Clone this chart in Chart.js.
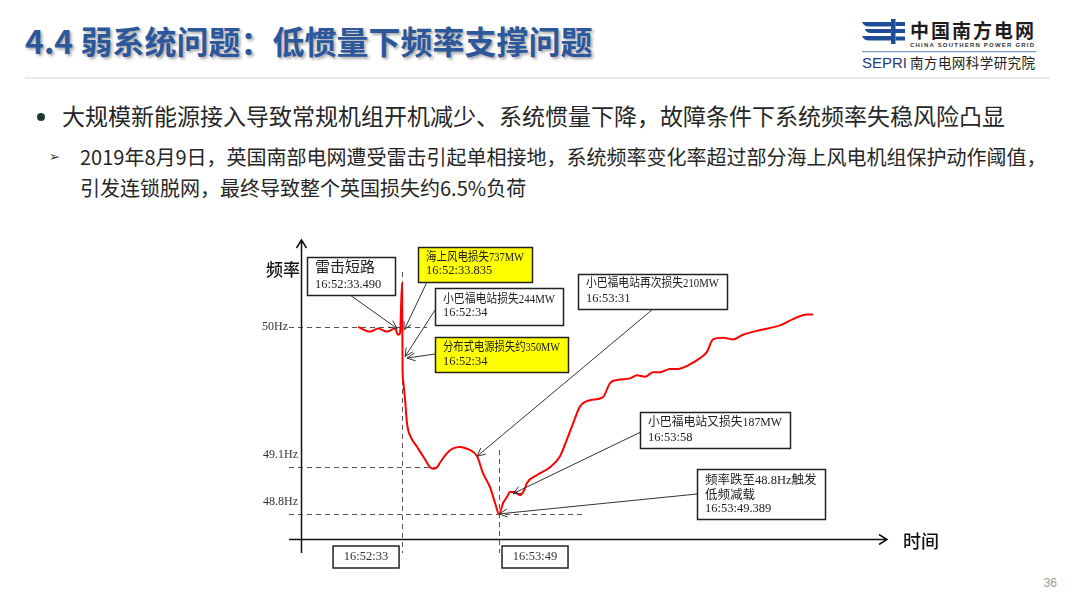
<!DOCTYPE html>
<html lang="zh-CN">
<head>
<meta charset="utf-8">
<title>4.4 弱系统问题：低惯量下频率支撑问题</title>
<script src="https://cdn.jsdelivr.net/npm/chart.js@4.4.1/dist/chart.umd.min.js"></script>
<style>
  html, body { margin: 0; padding: 0; background: #fff; }
  .slide { position: relative; width: 1080px; height: 608px; overflow: hidden; font-family: "Noto Sans CJK SC", sans-serif; color: #262626; }
  .title { position: absolute; left: 25px; top: 24px; font-size: 32px; font-weight: 700; line-height: 1; color: #2C579A; text-shadow: 2px 2px 3px rgba(0, 0, 0, 0.35); white-space: nowrap; }
  .rule { position: absolute; left: 25px; top: 77px; width: 1025px; height: 2px; background: #E8EBF0; }
  .logo { position: absolute; left: 860px; top: 18px; }
  .line { position: absolute; line-height: 1; white-space: nowrap; }
  .l1 { left: 62px; top: 104px; font-size: 23px; }
  .l2 { left: 80px; top: 147px; font-size: 20px; }
  .l3 { left: 80px; top: 178px; font-size: 20px; }
  .dot { position: absolute; left: 37px; top: 113px; width: 8px; height: 8px; border-radius: 50%; background: #1E3A2E; }
  .arrow { position: absolute; left: 49px; top: 150px; font-family: "DejaVu Sans", sans-serif; font-size: 13px; line-height: 1; color: #333; }
  .page { position: absolute; right: 23px; top: 576px; font-family: "Liberation Sans", sans-serif; font-size: 12px; color: #9a9a9a; }
  canvas { position: absolute; left: 0; top: 0; }
</style>
</head>
<body>
<div class="slide">
  <div class="title">4.4 弱系统问题：低惯量下频率支撑问题</div>
  <div class="rule"></div>
  <svg class="logo" width="190" height="58" viewBox="0 0 190 58">
    <g fill="#1F4E96">
      <path d="M2 4 H31 V8.5 H9 Q4 8.5 2 4 Z" />
      <path d="M5 11 H45 V15 H11 Q6 15 5 11 Z" />
      <path d="M2 18 H31 V22.5 H9 Q4 22.5 2 18 Z" />
      <rect x="31" y="1" width="4.5" height="25" />
      <rect x="35.5" y="4" width="9.5" height="4" />
      <rect x="35.5" y="18.5" width="9.5" height="4" />
    </g>
    <text x="50" y="20" font-family="Noto Sans CJK SC" font-weight="700" font-size="19" fill="#1d1d1d" textLength="124">中国南方电网</text>
    <text x="50" y="28.5" font-family="Liberation Sans" font-weight="700" font-size="6" fill="#333" textLength="124">CHINA SOUTHERN POWER GRID</text>
    <rect x="2" y="33" width="174" height="1.2" fill="#7F95BC" />
    <text x="2" y="50" font-family="Liberation Sans" font-size="15" fill="#1E3C72" textLength="45">SEPRI</text>
    <text x="50" y="50" font-family="Noto Sans CJK SC" font-size="13.5" fill="#222" textLength="125">南方电网科学研究院</text>
  </svg>

  <div class="dot"></div>
  <div class="line l1">大规模新能源接入导致常规机组开机减少、系统惯量下降，故障条件下系统频率失稳风险凸显</div>
  <div class="arrow">➢</div>
  <div class="line l2">2019年8月9日，英国南部电网遭受雷击引起单相接地，系统频率变化率超过部分海上风电机组保护动作阈值，</div>
  <div class="line l3">引发连锁脱网，最终导致整个英国损失约6.5%负荷</div>
  <div class="page">36</div>

  <canvas id="freqChart" width="1080" height="608"></canvas>
</div>

<script>
// seconds after 16:52:33 (schematic time axis) and system frequency in Hz
const times = [
  -34.5, -25.1, -18.8, -11.8, -5.5, -3.1, -1.6, 0, 0.4, 0.8, 2.4, 3.9, 7.1,
  11.8, 17.2, 21.9, 24.3, 27.4, 29.8, 35.3, 40.0, 45.5, 50.2, 53.3, 58.8,
  63.5, 69.0, 72.9, 76.0, 79.2, 82.3, 84.6, 88.6, 92.5, 95.6, 98.0, 105.8,
  116.0, 123.8, 129.3, 134.0, 139.5, 147.3, 157.5, 163.0, 168.5, 178.7,
  184.2, 190.4, 196.7, 202.2, 210.0, 216.3, 223.4, 233.5, 239.0, 243.7,
  251.6, 259.4, 267.2, 280.6, 296.2, 306.4, 317.4, 322.1,
]
const freqs = [
  50.0, 49.97, 49.99, 49.97, 49.99, 49.95, 49.96, 50.28, 49.72, 49.66, 49.53,
  49.38, 49.29, 49.23, 49.16, 49.1, 49.09, 49.1, 49.13, 49.19, 49.22, 49.23,
  49.22, 49.21, 49.17, 49.06, 48.97, 48.87, 48.8, 48.87, 48.91, 48.94, 48.94,
  48.92, 48.95, 49.0, 49.05, 49.1, 49.17, 49.28, 49.38, 49.49, 49.53, 49.55,
  49.64, 49.66, 49.67, 49.69, 49.68, 49.71, 49.71, 49.73, 49.73, 49.75, 49.8,
  49.84, 49.92, 49.93, 49.92, 49.95, 49.98, 50.01, 50.05, 50.08, 50.08,
]

const yTickValues = [50, 49.1, 48.8]
const yTickLabels = ["50Hz", "49.1Hz", "48.8Hz"]
const xTickValues = [0, 76]
const xTickLabels = ["16:52:33", "16:53:49"]

// events pointed at by the callouts
const eventTimes = [-3.9, 1.6, 2.4, 3.9, 58.8, 87.0, 76.0]
const eventFreqs = [49.99, 49.98, 49.81, 49.8, 49.17, 48.93, 48.8]
const eventLabels = [
  ["雷击短路", "16:52:33.490"],
  ["海上风电损失737MW", "16:52:33.835"],
  ["小巴福电站损失244MW", "16:52:34"],
  ["分布式电源损失约350MW", "16:52:34"],
  ["小巴福电站再次损失210MW", "16:53:31"],
  ["小巴福电站又损失187MW", "16:53:58"],
  ["频率跌至48.8Hz触发", "低频减载", "16:53:49.389"],
]

// callout layout (pixels): box x, y, w, h, arrow start, fill, text rows
const callouts = [
  { box: [307, 257, 88, 38], from: [350, 295], fill: "#fff", rows: [11, 28], big: true },
  { box: [418, 247, 114, 35], from: [427, 282], fill: "#FFFF00", rows: [11, 24] },
  { box: [435, 288, 128, 37], from: [435, 310], fill: "#fff", rows: [12, 25] },
  { box: [435, 337, 133, 35], from: [435, 354], fill: "#FFFF00", rows: [11, 25] },
  { box: [578, 274, 149, 35], from: [653, 309], fill: "#fff", rows: [10, 25] },
  { box: [640, 412, 150, 36], from: [647, 429], fill: "#fff", rows: [11, 26] },
  { box: [697, 469, 128, 50], from: [697, 494], fill: "#fff", rows: [12, 27, 40] },
]

const CJK = "'Liberation Serif', 'Noto Sans CJK SC', serif"

const drawArrow = (ctx, x0, y0, x1, y1) => {
  const ang = Math.atan2(y1 - y0, x1 - x0)
  const len = 9
  ctx.beginPath()
  ctx.moveTo(x0, y0)
  ctx.lineTo(x1, y1)
  ctx.moveTo(x1 - len * Math.cos(ang - 0.45), y1 - len * Math.sin(ang - 0.45))
  ctx.lineTo(x1, y1)
  ctx.lineTo(x1 - len * Math.cos(ang + 0.45), y1 - len * Math.sin(ang + 0.45))
  ctx.stroke()
}

const guidesPlugin = {
  id: "guides",
  beforeDatasetsDraw(chart) {
    const { ctx, chartArea, scales } = chart
    const { x, y } = scales
    ctx.save()

    // dashed reference lines
    const hEnds = [19.6, 30.6, 141.8]
    ctx.strokeStyle = "#555"
    ctx.lineWidth = 1
    ctx.setLineDash([5, 4])
    yTickValues.forEach((v, i) => {
      const py = Math.round(y.getPixelForValue(v)) + 0.5
      ctx.beginPath()
      ctx.moveTo(289, py)
      ctx.lineTo(x.getPixelForValue(hEnds[i]), py)
      ctx.stroke()
    })
    const vTops = [50.353, 49.21]
    xTickValues.forEach((v, i) => {
      const px = Math.round(x.getPixelForValue(v)) + 0.5
      ctx.beginPath()
      ctx.moveTo(px, y.getPixelForValue(vTops[i]))
      ctx.lineTo(px, chartArea.bottom + 14)
      ctx.stroke()
    })
    ctx.setLineDash([])

    // axes with open arrow heads
    ctx.strokeStyle = "#111"
    ctx.lineWidth = 1.5
    const ax = chartArea.left + 0.5
    const ay = chartArea.bottom + 0.5
    ctx.beginPath()
    ctx.moveTo(ax, chartArea.bottom + 14)
    ctx.lineTo(ax, chartArea.top)
    ctx.moveTo(ax - 5, chartArea.top + 8)
    ctx.lineTo(ax, chartArea.top)
    ctx.lineTo(ax + 5, chartArea.top + 8)
    ctx.moveTo(289, ay)
    ctx.lineTo(chartArea.right + 2, ay)
    ctx.moveTo(chartArea.right - 6, ay - 5)
    ctx.lineTo(chartArea.right + 2, ay)
    ctx.lineTo(chartArea.right - 6, ay + 5)
    ctx.stroke()

    // y tick labels
    ctx.fillStyle = "#333"
    ctx.font = "12px " + CJK
    ctx.textAlign = "right"
    ctx.textBaseline = "middle"
    yTickLabels.forEach((lab, i) => {
      const py = y.getPixelForValue(yTickValues[i])
      if (i === 0) ctx.fillText(lab, 288, py)
      else ctx.fillText(lab, 298, py - 12)
    })

    // x tick labels in boxes
    ctx.textAlign = "center"
    ctx.font = "12.5px " + CJK
    ctx.lineWidth = 1.5
    xTickLabels.forEach((lab, i) => {
      const px = x.getPixelForValue(xTickValues[i])
      const bx = i === 0 ? px - 69 : px + 3
      ctx.strokeStyle = "#222"
      ctx.strokeRect(bx, 546, 66, 22)
      ctx.fillText(lab, bx + 33, 557)
    })

    // axis names
    ctx.fillStyle = "#111"
    ctx.textAlign = "left"
    ctx.font = "500 17px 'Noto Sans CJK SC', sans-serif"
    ctx.fillText("频率", 266, 270)
    ctx.font = "500 18px 'Noto Sans CJK SC', sans-serif"
    ctx.fillText("时间", 903, 541)
    ctx.restore()
  },
  afterDatasetsDraw(chart) {
    const { ctx, scales } = chart
    const { x, y } = scales
    ctx.save()
    ctx.strokeStyle = "#333"
    ctx.lineWidth = 1
    callouts.forEach((c, i) => {
      drawArrow(ctx, c.from[0], c.from[1], x.getPixelForValue(eventTimes[i]), y.getPixelForValue(eventFreqs[i]))
    })
    callouts.forEach((c, i) => {
      const [bx, by, bw, bh] = c.box
      ctx.fillStyle = c.fill
      ctx.fillRect(bx, by, bw, bh)
      ctx.strokeStyle = "#222"
      ctx.lineWidth = 1.5
      ctx.strokeRect(bx + 0.5, by + 0.5, bw, bh)
      ctx.fillStyle = "#222"
      ctx.textAlign = "left"
      ctx.textBaseline = "middle"
      eventLabels[i].forEach((txt, r) => {
        ctx.font = (c.big && r === 0 ? "15px " : c.big ? "12.5px " : "12.5px ") + CJK
        ctx.fillText(txt, bx + 8, by + c.rows[r], bw - 16)
      })
    })
    ctx.restore()
  },
}

const createFreqChart = (ctx) => {
  const data = {
    datasets: [
      {
        label: "频率",
        data: times.map((t, i) => ({ x: t, y: freqs[i] })),
        borderColor: "#FF0000",
        borderWidth: 2,
        pointRadius: 0,
        cubicInterpolationMode: "monotone",
        fill: false,
      },
    ],
  }
  const options = {
    responsive: false,
    devicePixelRatio: 1,
    animation: false,
    events: [],
    layout: {
      padding: { left: 301, right: 195, top: 240, bottom: 69 },
    },
    plugins: {
      legend: { display: false },
      tooltip: { enabled: false },
    },
    scales: {
      x: { type: "linear", min: -79.2, max: 378.5, display: false },
      y: { type: "linear", min: 48.639, max: 50.558, display: false },
    },
  }
  return new Chart(ctx, {
    type: "line",
    data: data,
    options: options,
    plugins: [guidesPlugin],
  })
}

document.addEventListener("DOMContentLoaded", () => {
  const canvas = document.getElementById("freqChart")
  createFreqChart(canvas.getContext("2d"))
})
</script>
</body>
</html>
